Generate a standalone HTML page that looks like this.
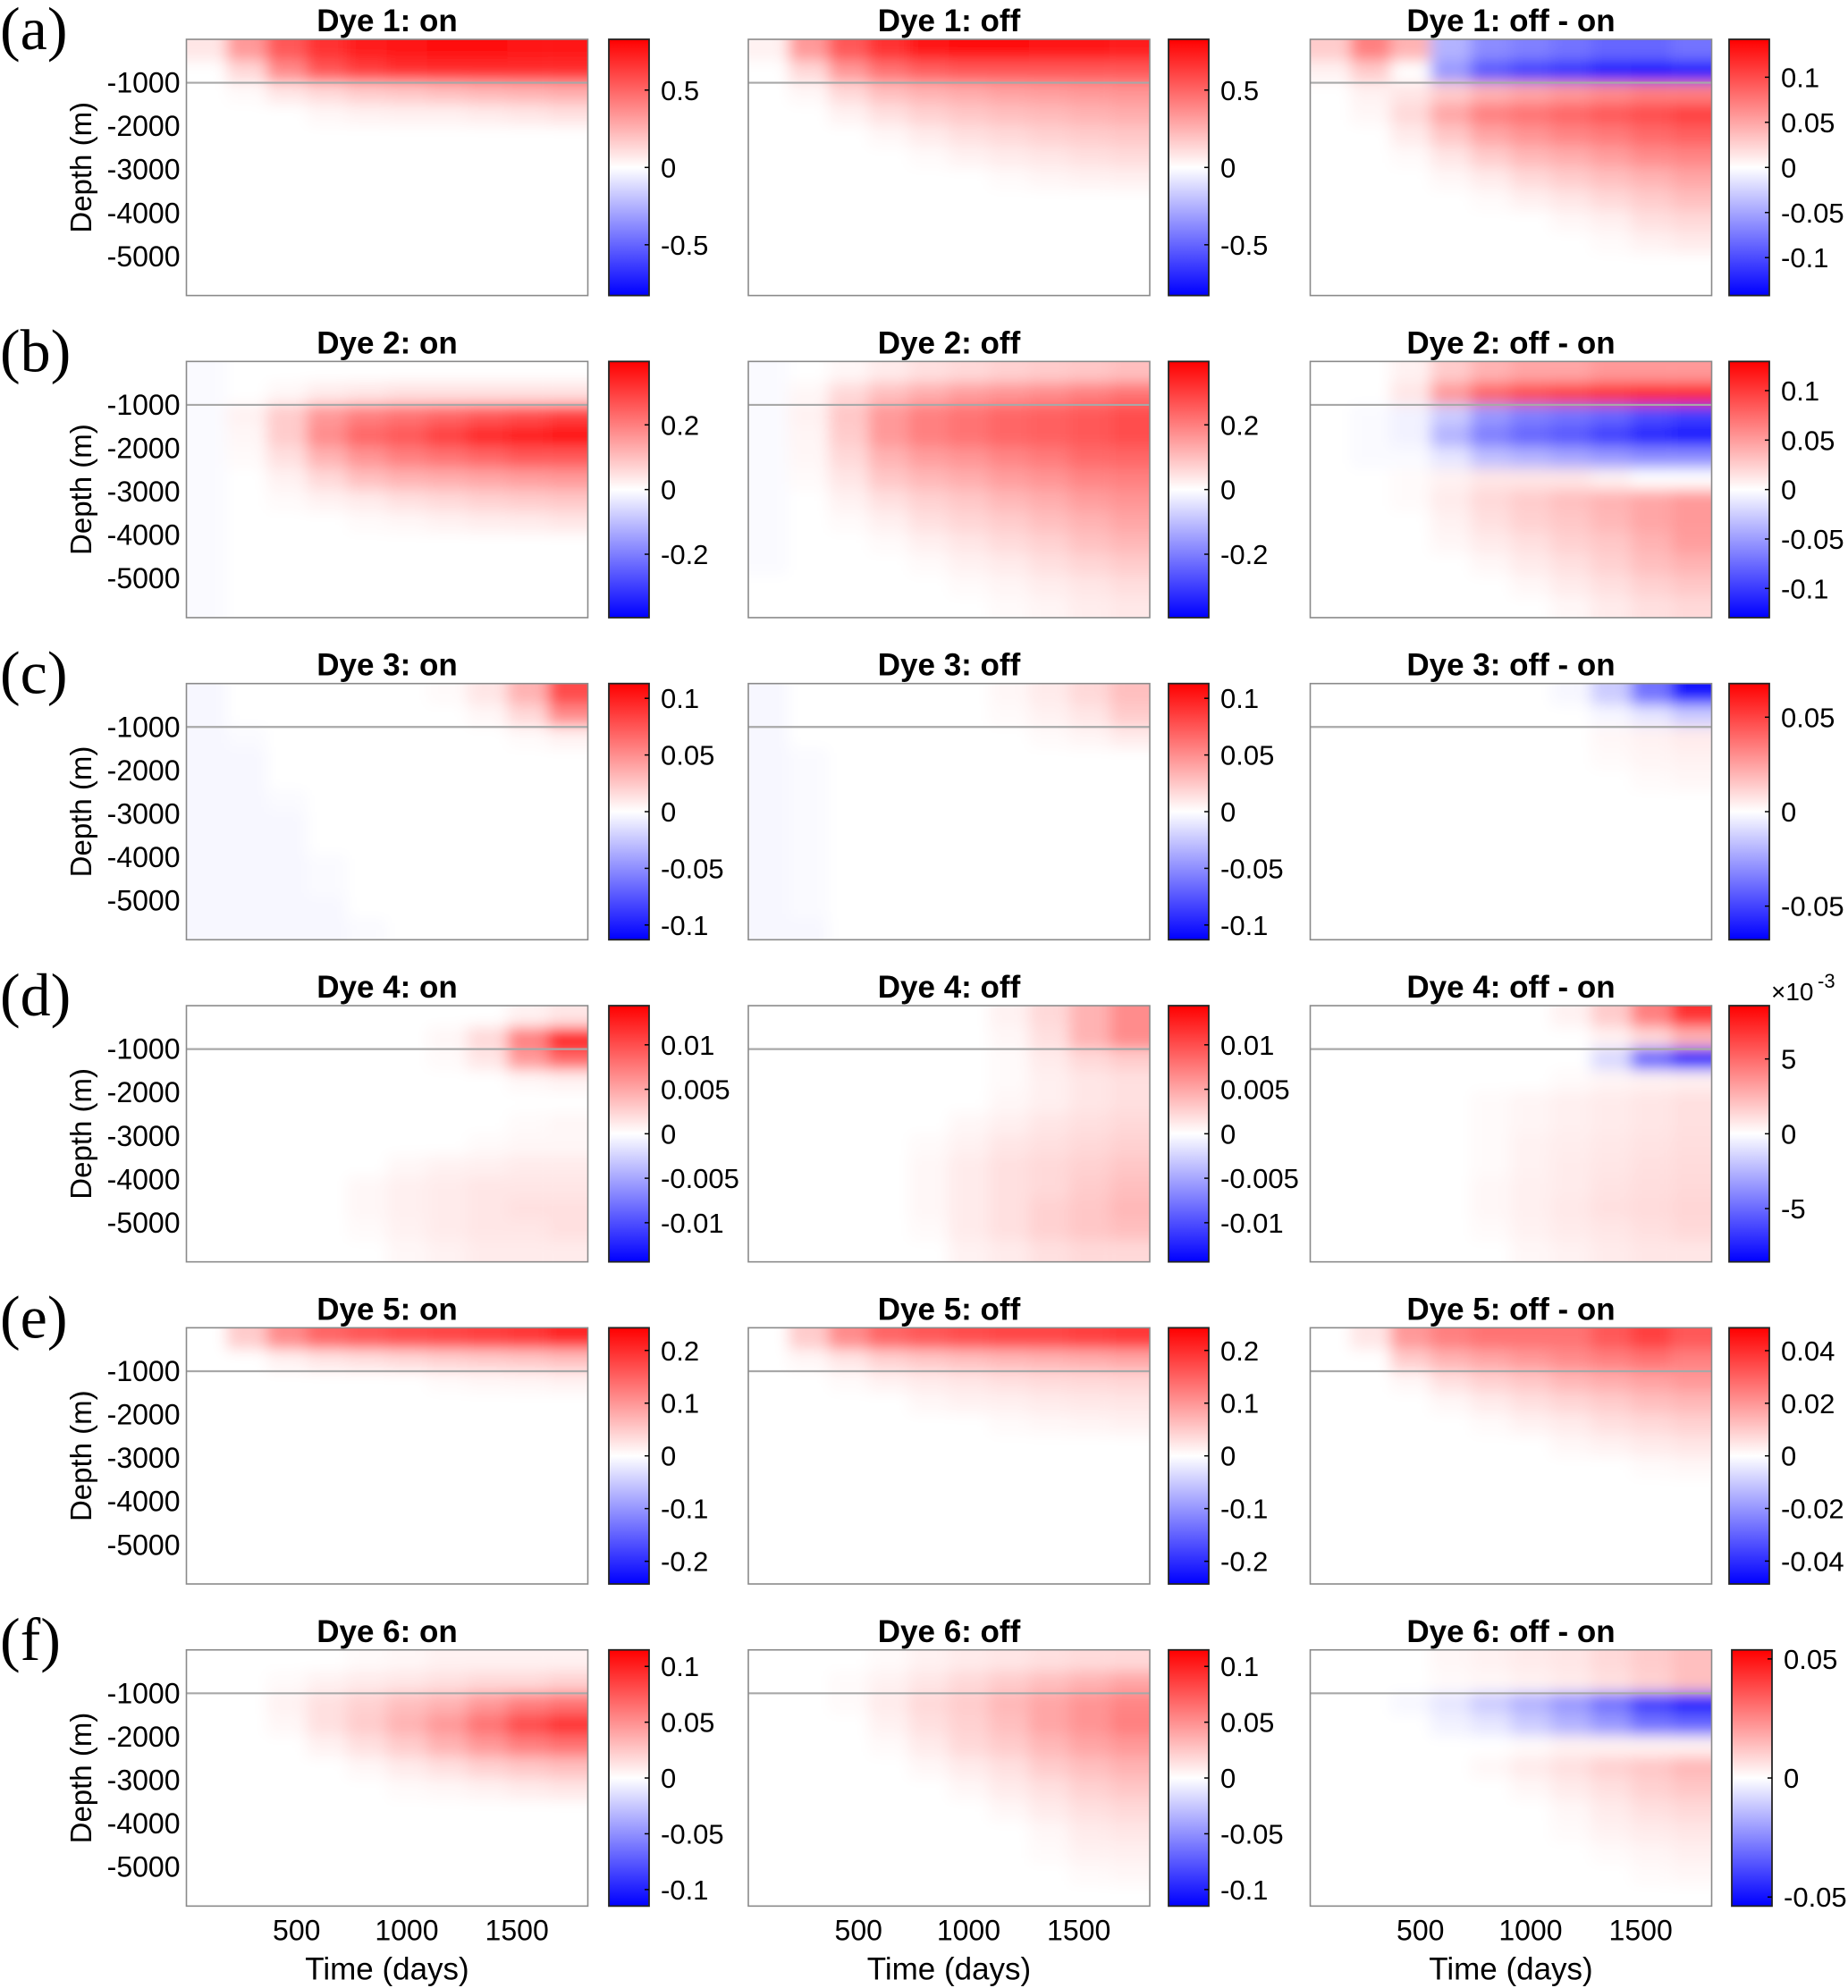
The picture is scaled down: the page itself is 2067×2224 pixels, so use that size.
<!DOCTYPE html>
<html><head><meta charset="utf-8"><style>
html,body{margin:0;padding:0;background:#fff;}
svg{display:block;}
.sans{font-family:"Liberation Sans",Arial,sans-serif;fill:#000;}
.serif{font-family:"Liberation Serif","DejaVu Serif",serif;fill:#000;}
</style></head><body>
<svg id="fig" width="2067" height="2224" viewBox="0 0 2067 2224" xmlns="http://www.w3.org/2000/svg">
<defs>
<filter id="soft" x="-10%" y="-10%" width="120%" height="120%"><feGaussianBlur stdDeviation="8"/></filter>
</defs>
</svg>
<script>
// ---- data (values in percent of each panel's colour limit) ----
const timeBins = [91,273,455,637,819,1001,1183,1365,1547,1731];
const depthBins = [246,738,1229,1721,2213,2704,3196,3688,4179,4671,5163,5654];
const rowLetters = ['(a)','(b)','(c)','(d)','(e)','(f)'];
const colTitles = ['on','off','off - on'];
const timeTicks = [500,1000,1500];
const depthTicks = [-1000,-2000,-3000,-4000,-5000];
const climA = [0.828,0.828,0.142];
const climB = [0.396,0.396,0.1295];
const climC = [0.113,0.113,0.0678];
const climD = [0.0144,0.0144,0.00856];
const climE = [0.243,0.243,0.0487];
const climF = [0.1148,0.1148,0.0538];
const cbTicksA = [[0.5,0,-0.5],[0.5,0,-0.5],[0.1,0.05,0,-0.05,-0.1]];
const cbTicksB = [[0.2,0,-0.2],[0.2,0,-0.2],[0.1,0.05,0,-0.05,-0.1]];
const cbTicksC = [[0.1,0.05,0,-0.05,-0.1],[0.1,0.05,0,-0.05,-0.1],[0.05,0,-0.05]];
const cbTicksD = [[0.01,0.005,0,-0.005,-0.01],[0.01,0.005,0,-0.005,-0.01],[0.005,0,-0.005]];
const cbTicksE = [[0.2,0.1,0,-0.1,-0.2],[0.2,0.1,0,-0.1,-0.2],[0.04,0.02,0,-0.02,-0.04]];
const cbTicksF = [[0.1,0.05,0,-0.05,-0.1],[0.1,0.05,0,-0.05,-0.1],[0.05,0,-0.05]];
const cbLabelsD3 = ['5','0','-5'];
const Z = [0,0,0,0,0,0,0,0,0,0];
const fieldA1 = [[10,40,65,80,88,92,95,95,92,90],[0,15,45,65,75,80,82,82,82,82],[0,2,10,15,20,22,25,28,30,32],[0,0,0,3,5,6,6,8,10,12],Z,Z,Z,Z,Z,Z,Z,Z];
const fieldA2 = [[5,40,65,80,90,95,95,92,90,88],[0,15,40,55,62,65,65,65,65,65],[0,3,15,25,30,33,36,38,40,42],[0,0,5,12,18,22,25,27,30,32],[0,0,0,3,8,12,15,18,20,22],[0,0,0,0,2,5,8,10,12,14],[0,0,0,0,0,0,2,4,5,6],Z,Z,Z,Z,Z];
const fieldA3 = [[20,50,30,-30,-45,-50,-55,-60,-60,-55],[5,20,0,-40,-65,-75,-80,-90,-95,-90],[0,5,10,20,30,35,40,45,50,50],[0,3,15,35,50,55,60,65,70,75],[0,0,8,22,35,42,48,52,58,62],[0,0,2,10,20,28,32,38,45,48],[0,0,0,3,8,15,20,25,30,35],[0,0,0,0,2,6,10,15,20,25],[0,0,0,0,0,0,3,6,12,15],[0,0,0,0,0,0,0,2,5,8],Z,Z];
const fieldB1 = [[-2,0,0,0,0,0,0,0,0,0],[-2,0,3,8,10,12,12,12,12,12],[-2,5,20,40,50,55,60,65,70,75],[-2,3,20,45,60,65,75,85,90,95],[-2,2,12,30,42,50,55,60,65,65],[-2,0,5,15,25,30,32,35,38,40],[-2,0,2,5,8,12,15,18,20,22],[-2,0,0,0,2,3,5,7,8,10],[-2,0,0,0,0,0,0,0,0,0],[-2,0,0,0,0,0,0,0,0,0],[-2,0,0,0,0,0,0,0,0,0],[-2,0,0,0,0,0,0,0,0,0]];
const fieldB2 = [[-2,0,3,8,12,15,18,20,22,25],[-2,3,15,25,32,38,42,45,50,55],[-2,5,22,40,50,55,60,62,65,70],[-2,4,20,40,50,55,60,62,65,70],[-2,3,15,30,38,42,48,52,58,60],[-2,2,10,22,28,32,38,42,48,50],[-2,0,5,12,18,22,28,32,38,42],[-2,0,2,6,12,16,20,25,30,35],[-2,0,0,2,6,10,14,18,24,28],[-2,0,0,0,2,5,8,12,16,20],[0,0,0,0,0,2,4,7,10,13],[0,0,0,0,0,0,2,4,7,9]];
const fieldB3 = [[0,0,5,20,30,35,35,40,40,40],[0,0,10,40,60,70,75,80,85,85],[0,-2,-5,-20,-40,-50,-55,-60,-70,-75],[0,-2,-5,-30,-50,-60,-65,-75,-85,-90],[0,-2,-2,-10,-25,-30,-35,-40,-45,-45],[0,0,2,5,10,10,10,5,0,0],[0,0,2,8,15,20,25,30,35,40],[0,0,0,5,12,18,22,28,35,40],[0,0,0,3,8,12,18,22,30,38],[0,0,0,0,3,8,12,18,25,30],[0,0,0,0,0,3,8,12,18,22],[0,0,0,0,0,0,3,8,12,15]];
const fieldC1 = [[-3,0,0,0,0,0,2,10,30,70],[-3,0,0,0,0,0,0,3,15,45],[-3,-2,0,0,0,0,0,0,2,5],[-3,-3,0,0,0,0,0,0,0,0],[-3,-3,0,0,0,0,0,0,0,0],[-3,-3,-2,0,0,0,0,0,0,0],[-3,-3,-3,0,0,0,0,0,0,0],[-3,-3,-3,0,0,0,0,0,0,0],[-3,-3,-3,-2,0,0,0,0,0,0],[-3,-3,-3,-2,0,0,0,0,0,0],[-3,-3,-3,-3,0,0,0,0,0,0],[-3,-3,-3,-3,-2,0,0,0,0,0]];
const fieldC2 = [[-3,0,0,0,0,0,3,8,15,25],[-3,0,0,0,0,0,2,5,10,20],[-3,0,0,0,0,0,0,2,4,8],[-3,-2,0,0,0,0,0,0,0,0],[-3,-2,0,0,0,0,0,0,0,0],[-3,-2,0,0,0,0,0,0,0,0],[-3,-2,0,0,0,0,0,0,0,0],[-3,-2,0,0,0,0,0,0,0,0],[-3,-2,0,0,0,0,0,0,0,0],[-3,-2,0,0,0,0,0,0,0,0],[-3,-2,0,0,0,0,0,0,0,0],[-3,-3,0,0,0,0,0,0,0,0]];
const fieldC3 = [[0,0,0,0,0,0,-3,-20,-55,-90],[0,0,0,0,0,0,0,-3,-10,-20],[0,0,0,0,0,0,0,3,5,8],[0,0,0,0,0,0,0,2,4,5],[0,0,0,0,0,0,0,0,2,3],Z,Z,Z,Z,Z,Z,Z];
const fieldD1 = [[0,0,0,0,0,0,0,0,5,10],[0,0,0,0,0,0,3,15,50,90],[0,0,0,0,0,0,2,10,40,60],[0,0,0,0,0,0,0,0,3,5],Z,[0,0,0,0,0,0,0,0,2,3],[0,0,0,0,0,0,0,2,3,3],[0,0,0,0,0,3,5,6,8,8],[0,0,0,0,3,6,8,10,10,10],[0,0,0,0,3,6,8,10,12,12],[0,0,0,0,2,5,8,10,10,12],[0,0,0,0,0,3,5,8,8,8]];
const fieldD2 = [[0,0,0,0,0,0,5,15,30,45],[0,0,0,0,0,0,3,12,30,45],[0,0,0,0,0,0,2,8,15,20],[0,0,0,0,0,0,2,6,10,12],[0,0,0,0,0,0,3,6,10,12],[0,0,0,0,0,3,6,10,12,15],[0,0,0,0,2,5,10,12,15,18],[0,0,0,0,3,8,12,15,18,22],[0,0,0,0,3,8,12,15,20,25],[0,0,0,0,3,8,12,18,22,28],[0,0,0,0,2,8,12,18,22,25],[0,0,0,0,0,5,8,12,15,15]];
const fieldD3 = [[0,0,0,0,0,0,5,20,50,80],[0,0,0,0,0,0,0,5,15,30],[0,0,0,0,0,0,0,-15,-60,-90],[0,0,0,0,0,0,2,4,5,6],[0,0,0,0,2,4,6,8,10,12],[0,0,0,0,2,4,6,8,10,12],[0,0,0,0,2,5,7,9,11,13],[0,0,0,0,2,5,8,10,12,14],[0,0,0,0,3,6,8,11,13,15],[0,0,0,0,3,6,9,12,14,16],[0,0,0,0,2,5,8,10,12,15],[0,0,0,0,0,3,5,8,10,10]];
const fieldE1 = [[0,20,45,60,65,70,72,75,78,85],[0,0,5,10,12,15,18,20,22,25],[0,0,0,0,0,0,2,3,4,5],Z,Z,Z,Z,Z,Z,Z,Z,Z];
const fieldE2 = [[0,20,45,60,65,70,72,72,75,78],[0,3,10,18,22,25,28,30,32,35],[0,0,2,5,8,10,12,14,15,16],[0,0,0,0,3,5,6,8,9,10],[0,0,0,0,0,0,2,3,4,5],Z,Z,Z,Z,Z,Z,Z];
const fieldE3 = [[0,10,40,50,55,55,55,65,75,65],[0,0,20,30,35,40,45,50,55,50],[0,0,3,12,18,22,28,32,36,40],[0,0,0,3,8,12,16,20,25,28],[0,0,0,0,2,5,8,12,15,18],[0,0,0,0,0,0,3,5,8,10],[0,0,0,0,0,0,0,0,2,3],Z,Z,Z,Z,Z];
const fieldF1 = [[0,0,0,0,2,3,5,5,5,5],[0,0,2,5,8,10,12,15,15,18],[0,0,5,12,18,25,30,40,50,55],[0,0,3,12,20,30,40,55,70,80],[0,0,0,5,12,20,30,40,50,55],[0,0,0,0,3,8,12,18,22,25],[0,0,0,0,0,2,3,5,8,10],Z,Z,Z,Z,Z];
const fieldF2 = [[0,0,0,2,5,8,10,12,14,15],[0,0,2,5,10,15,20,25,30,35],[0,0,2,8,15,20,28,35,42,48],[0,0,0,5,12,18,25,35,42,50],[0,0,0,2,8,15,20,28,35,40],[0,0,0,0,3,8,12,20,25,30],[0,0,0,0,0,3,8,12,18,22],[0,0,0,0,0,0,3,8,12,15],[0,0,0,0,0,0,0,3,8,10],[0,0,0,0,0,0,0,2,5,6],[0,0,0,0,0,0,0,0,2,3],Z];
const fieldF3 = [[0,0,0,3,5,8,10,15,20,25],[0,0,0,2,3,5,8,12,18,25],[0,0,-3,-10,-20,-30,-40,-55,-75,-90],[0,0,0,-5,-10,-20,-30,-40,-55,-60],[0,0,0,0,0,2,5,5,5,5],[0,0,0,0,3,8,12,18,22,28],[0,0,0,0,0,3,8,12,18,22],[0,0,0,0,0,0,3,8,12,15],[0,0,0,0,0,0,2,5,8,10],[0,0,0,0,0,0,0,2,4,6],[0,0,0,0,0,0,0,0,2,3],Z];

const fields = [[fieldA1,fieldA2,fieldA3],[fieldB1,fieldB2,fieldB3],[fieldC1,fieldC2,fieldC3],[fieldD1,fieldD2,fieldD3],[fieldE1,fieldE2,fieldE3],[fieldF1,fieldF2,fieldF3]];
const clims = [climA,climB,climC,climD,climE,climF];
const cbTicks = [cbTicksA,cbTicksB,cbTicksC,cbTicksD,cbTicksE,cbTicksF];

// ---- layout ----
const NS='http://www.w3.org/2000/svg';
const svg=document.getElementById('fig');
const colX=[208.5,837,1465.5], PW=449, PH=286.6;
const cbX=[681,1307,1934], CBW=45;
const rowY=r=>44+r*360.35;
const TMAX=1822, DMAX=5900;
function xs(c,t){return colX[c]+t/TMAX*PW;}
function ys(r,d){return rowY(r)+d/DMAX*PH;}
function col(v){v=Math.max(-1,Math.min(1,v));if(v>=0){const g=Math.round(255*(1-v));return `rgb(255,${g},${g})`;}const g=Math.round(255*(1+v));return `rgb(${g},${g},255)`;}
function mk(tag,attrs,parent){const e=document.createElementNS(NS,tag);for(const k in attrs)e.setAttribute(k,attrs[k]);(parent||svg).appendChild(e);return e;}
function txt(s,attrs,parent,cls){const e=mk('text',attrs,parent);e.setAttribute('class',cls||'sans');e.textContent=s;return e;}
const dT=TMAX/timeBins.length, dD=DMAX/depthBins.length;

for(let r=0;r<6;r++){
  const y0=rowY(r);
  const lab=txt(rowLetters[r],{x:0,y:y0+11,'font-size':68},svg,'serif');
  
  
  for(let c=0;c<3;c++){
    const g=mk('g',{});
    
    
    const cid=`clip${r}${c}`;
    const cp=mk('clipPath',{id:cid},g);
    mk('rect',{x:colX[c],y:y0,width:PW,height:PH},cp);
    mk('rect',{x:colX[c],y:y0,width:PW,height:PH,fill:'#fff'},g);
    const hc=mk('g',{'clip-path':`url(#${cid})`},g);
    const hm=mk('g',{filter:'url(#soft)'},hc);
    
    
    const F=fields[r][c], cl=clims[r][c];
    for(let i=0;i<depthBins.length;i++){
      for(let j=0;j<timeBins.length;j++){
        const v=F[i][j]*cl/100;
        let x1=xs(c,timeBins[j]-dT/2), x2=xs(c,timeBins[j]+dT/2);
        let y1=ys(r,depthBins[i]-dD/2), y2=ys(r,depthBins[i]+dD/2);
        if(j===0)x1-=40; if(j===timeBins.length-1)x2+=40;
        if(i===0)y1-=40; if(i===depthBins.length-1)y2+=40;
        const cell=mk('rect',{x:x1,y:y1,width:x2-x1+0.6,height:y2-y1+0.6,fill:col(v/cl)},hm);
        
        
      }
    }
    const ref=mk('line',{x1:colX[c],x2:colX[c]+PW,y1:ys(r,1000),y2:ys(r,1000),stroke:'#a8a8a8','stroke-width':2.2},g);
    
    
    mk('rect',{x:colX[c],y:y0,width:PW,height:PH,fill:'none',stroke:'#8a8a8a','stroke-width':1.6},g);
    const tt=txt(`Dye ${r+1}: ${colTitles[c]}`,{x:colX[c]+PW/2,y:y0-9,'font-size':35,'font-weight':'bold','text-anchor':'middle'},g);
    
    
    if(c===0){
      for(const d of depthTicks){
        const t=txt(String(d),{x:colX[c]-7,y:ys(r,-d)+11,'font-size':32,'text-anchor':'end'},g);
        
        
      }
      const yl=txt('Depth (m)',{x:0,y:0,'font-size':33,'text-anchor':'middle',transform:`translate(102,${y0+PH/2}) rotate(-90)`},g);
      
      
    }
    if(r===5){
      for(const t of timeTicks){
        const e=txt(String(t),{x:xs(c,t),y:y0+PH+38,'font-size':32,'text-anchor':'middle'},g);
        
        
      }
      const xl=txt('Time (days)',{x:colX[c]+PW/2,y:y0+PH+82,'font-size':35,'text-anchor':'middle'},g);
      
      
    }
    // colorbar
    const cb=mk('g',{},svg);
    
    
    const gid=`grad${r}${c}`;
    const lg=mk('linearGradient',{id:gid,x1:0,y1:0,x2:0,y2:1},cb);
    mk('stop',{offset:'0','stop-color':'#ff0000'},lg);
    mk('stop',{offset:'0.5','stop-color':'#ffffff'},lg);
    mk('stop',{offset:'1','stop-color':'#0000ff'},lg);
    const bx=cbX[c]+((r===5&&c===2)?3:0);
    mk('rect',{x:bx,y:y0,width:CBW,height:PH,fill:`url(#${gid})`,stroke:'#222','stroke-width':1.8},cb);
    cbTicks[r][c].forEach((v,k)=>{
      const ty=y0+PH/2-v/cl*PH/2;
      mk('line',{x1:bx+CBW-5,x2:bx+CBW,y1:ty,y2:ty,stroke:'#000','stroke-width':1.5},cb);
      const s=(r===3&&c===2)?cbLabelsD3[k]:String(v);
      const e=txt(s,{x:bx+CBW+13,y:ty+11,'font-size':31},cb);
      
      
    });
    if(r===3&&c===2){
      const ex=txt('×10',{x:bx+CBW+2,y:y0-6,'font-size':28},cb);
      
      
      txt('-3',{x:bx+CBW+54,y:y0-20,'font-size':22},cb);
    }
  }
}
</script>
</body></html>
